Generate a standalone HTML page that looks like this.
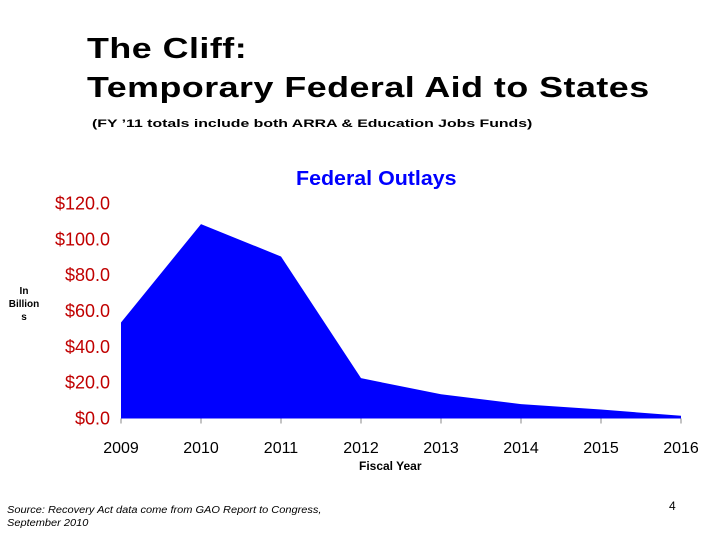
<!DOCTYPE html>
<html><head><meta charset="utf-8"><style>
body{margin:0;width:720px;height:540px;background:#fff;position:relative;overflow:hidden;font-family:"Liberation Sans",sans-serif}
.t{position:absolute;white-space:nowrap;transform-origin:0 0}
</style></head><body>
<div class="t" style="left:87px;top:30px;font-size:29px;font-weight:bold;line-height:39px;letter-spacing:0.4px;transform:scaleX(1.235)">The Cliff:<br>Temporary Federal Aid to States</div>
<div class="t" style="left:92px;top:118px;font-size:11px;font-weight:bold;transform:scaleX(1.44)">(FY ’11 totals include both ARRA &amp; Education Jobs Funds)</div>
<div class="t" style="left:296px;top:168px;font-size:20px;font-weight:bold;color:#0000ff;transform:scaleX(1.07)">Federal Outlays</div>
<div class="t" style="left:6px;top:285px;width:36px;text-align:center;font-size:10px;font-weight:bold;line-height:13px">In<br>Billion<br>s</div>
<div class="t" style="left:359px;top:459px;font-size:12px;font-weight:bold">Fiscal Year</div>
<div class="t" style="left:7px;top:504px;font-size:10px;font-style:italic;line-height:13px;transform:scaleX(1.1)">Source: Recovery Act data come from GAO Report to Congress,<br>September 2010</div>
<div class="t" style="left:669px;top:499px;font-size:12px">4</div>
<svg id="chart" width="720" height="540" style="position:absolute;left:0;top:0"></svg>
<script>
const years=["2009","2010","2011","2012","2013","2014","2015","2016"];
const outlays=[53.6,108.5,90.4,22.5,13.5,8,5,1.5];
const yTicks=[0,20,40,60,80,100,120];
const yLabels=["$0.0","$20.0","$40.0","$60.0","$80.0","$100.0","$120.0"];
const svg=document.getElementById('chart');
const NS='http://www.w3.org/2000/svg';
const x=i=>121+i*80;
const y=v=>418.5-v*1.792;
function mk(t,a){const e=document.createElementNS(NS,t);for(const k in a)e.setAttribute(k,a[k]);svg.appendChild(e);return e;}
let d='M'+x(0)+','+y(0);
outlays.forEach((v,i)=>{d+=' L'+x(i)+','+y(v);});
d+=' L'+x(outlays.length-1)+','+y(0)+' Z';
const area=mk('path',{d:d,fill:'#0000ff'});


yTicks.forEach((v,i)=>{
 const t=mk('text',{x:110,y:y(v)+6,'text-anchor':'end','font-size':18,fill:'#c00000','font-family':'Liberation Sans, sans-serif'});
 t.textContent=yLabels[i];
 
 
});
years.forEach((yr,i)=>{
 const tk=mk('line',{x1:x(i),x2:x(i),y1:y(0),y2:y(0)+5,stroke:'#888','stroke-width':1});
 
 
 const t=mk('text',{x:x(i),y:453,'text-anchor':'middle','font-size':16,fill:'#000','font-family':'Liberation Sans, sans-serif'});
 t.textContent=yr;
 
 
});
</script>
</body></html>
